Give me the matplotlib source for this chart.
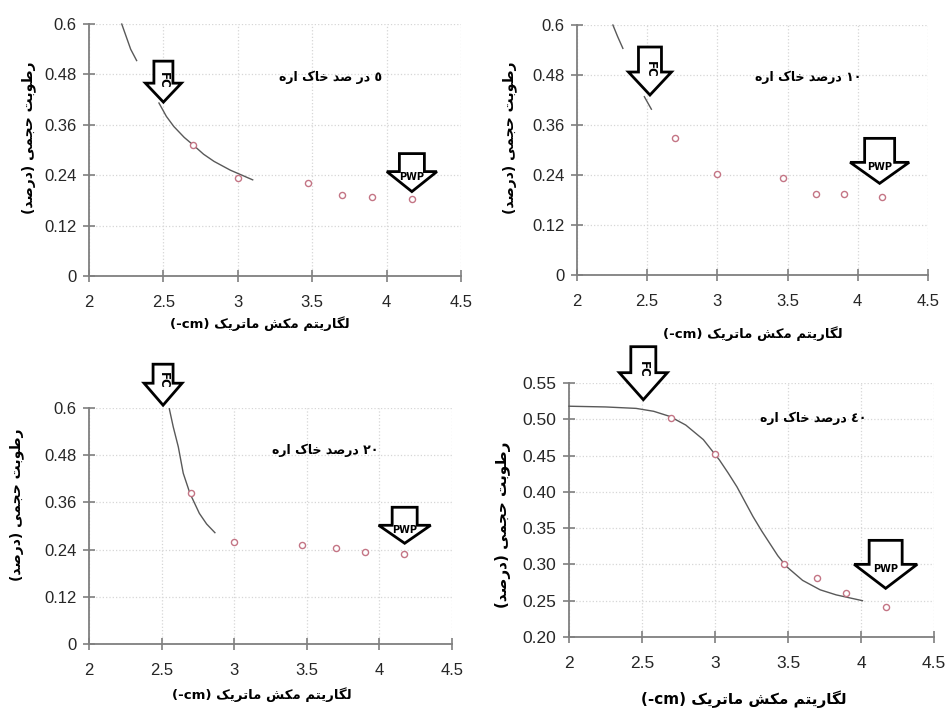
import matplotlib
matplotlib.use("Agg")
import matplotlib.pyplot as plt
import matplotlib.transforms as mtransforms
from matplotlib.patches import Polygon
import numpy as np

# ---- measured points (log matric suction vs volumetric moisture) ----
x_obs = [2.7, 3.0, 3.47, 3.7, 3.9, 4.17]

y_obs_5 = [0.312, 0.233, 0.222, 0.192, 0.187, 0.183]
y_obs_10 = [0.330, 0.243, 0.233, 0.194, 0.194, 0.188]
y_obs_20 = [0.383, 0.258, 0.252, 0.243, 0.233, 0.228]
y_obs_40 = [0.502, 0.452, 0.300, 0.281, 0.261, 0.241]

# ---- fitted curves (nan = break in the line) ----
fit_x_5 = [2.22, 2.25, 2.28, 2.32, np.nan, 2.47, 2.52, 2.57, 2.64, 2.70, 2.77, 2.84, 2.95, 3.10]
fit_y_5 = [0.60, 0.57, 0.54, 0.513, np.nan, 0.412, 0.38, 0.356, 0.33, 0.312, 0.29, 0.273, 0.252, 0.229]

fit_x_10 = [2.256, 2.29, 2.327, np.nan, 2.48, 2.505, 2.53]
fit_y_10 = [0.60, 0.572, 0.544, np.nan, 0.428, 0.413, 0.398]

fit_x_20 = [2.553, 2.58, 2.615, 2.649, 2.695, 2.76, 2.81, 2.867]
fit_y_20 = [0.598, 0.552, 0.501, 0.434, 0.383, 0.332, 0.305, 0.283]

fit_x_40 = [2.0, 2.25, 2.46, 2.58, 2.69, 2.80, 2.92, 3.03, 3.09, 3.15, 3.26, 3.32,
            3.375, 3.43, 3.49, 3.60, 3.72, 3.83, 4.01]
fit_y_40 = [0.518, 0.517, 0.515, 0.511, 0.504, 0.492, 0.472, 0.444, 0.426, 0.407, 0.366, 0.346,
            0.329, 0.312, 0.297, 0.278, 0.265, 0.258, 0.250]

x_ticks = [2, 2.5, 3, 3.5, 4, 4.5]
x_tick_labels = ["2", "2.5", "3", "3.5", "4", "4.5"]
y_ticks_a = [0, 0.12, 0.24, 0.36, 0.48, 0.6]
y_tick_labels_a = ["0", "0.12", "0.24", "0.36", "0.48", "0.6"]
y_ticks_b = [0.20, 0.25, 0.30, 0.35, 0.40, 0.45, 0.50, 0.55]
y_tick_labels_b = ["0.20", "0.25", "0.30", "0.35", "0.40", "0.45", "0.50", "0.55"]

# FC / PWP tips in data coords: (x, y, body_w, head_w, body_h, head_h) in px
fc_arrows = [(2.50, 0.414, 19, 36, 22, 19), (2.52, 0.432, 23, 43, 25, 23),
             (2.51, 0.607, 20, 38, 19, 22), (2.509, 0.527, 25, 48, 26, 27)]
pwp_arrows = [(4.17, 0.201, 25, 50, 18, 20), (4.156, 0.22, 30, 59, 24, 21),
              (4.174, 0.256, 25, 52, 18, 18), (4.169, 0.267, 33, 63, 24, 24)]


# ---- minimal Persian shaping: (isolated, final, initial, medial) ----
FORMS = {
    'ا': ('\uFE8D', '\uFE8E', None, None),
    'ب': ('\uFE8F', '\uFE90', '\uFE91', '\uFE92'),
    'ت': ('\uFE95', '\uFE96', '\uFE97', '\uFE98'),
    'ج': ('\uFE9D', '\uFE9E', '\uFE9F', '\uFEA0'),
    'ح': ('\uFEA1', '\uFEA2', '\uFEA3', '\uFEA4'),
    'خ': ('\uFEA5', '\uFEA6', '\uFEA7', '\uFEA8'),
    'د': ('\uFEA9', '\uFEAA', None, None),
    'ر': ('\uFEAD', '\uFEAE', None, None),
    'ش': ('\uFEB5', '\uFEB6', '\uFEB7', '\uFEB8'),
    'ص': ('\uFEB9', '\uFEBA', '\uFEBB', '\uFEBC'),
    'ط': ('\uFEC1', '\uFEC2', '\uFEC3', '\uFEC4'),
    'ل': ('\uFEDD', '\uFEDE', '\uFEDF', '\uFEE0'),
    'م': ('\uFEE1', '\uFEE2', '\uFEE3', '\uFEE4'),
    'ه': ('\uFEE9', '\uFEEA', '\uFEEB', '\uFEEC'),
    'و': ('\uFEED', '\uFEEE', None, None),
    'ی': ('\uFBFC', '\uFBFD', '\uFBFE', '\uFBFF'),
    'ک': ('\uFB8E', '\uFB8F', '\uFB90', '\uFB91'),
    'گ': ('\uFB92', '\uFB93', '\uFB94', '\uFB95'),
}


def rtl(text):
    out = []
    for i, ch in enumerate(text):
        if ch not in FORMS:
            out.append(ch)
            continue
        iso, fin, ini, med = FORMS[ch]
        prev = text[i - 1] if i > 0 else ''
        nxt = text[i + 1] if i + 1 < len(text) else ''
        join_prev = prev in FORMS and FORMS[prev][2] is not None
        join_next = ini is not None and nxt in FORMS
        if join_prev and join_next:
            out.append(med)
        elif join_prev:
            out.append(fin)
        elif join_next:
            out.append(ini)
        else:
            out.append(iso)
    vis = ''.join(reversed(out))
    return vis.translate(str.maketrans('()', ')('))


titles = [rtl('در صد خاک اره') + ' \u0665',
          rtl('درصد خاک اره') + ' \u0661\u0660',
          rtl('درصد خاک اره') + ' \u0662\u0660',
          rtl('درصد خاک اره') + ' \u0664\u0660']
ylab = rtl('رطوبت حجمی (درصد)')
xlab = '(-cm) ' + rtl('لگاریتم مکش ماتریک')

fig = plt.figure(figsize=(9.46, 7.09), dpi=100)
fa = ['DejaVu Sans']

rects = [[0.0941, 0.6107, 0.3932, 0.3554],
         [0.6099, 0.6121, 0.3710, 0.3526],
         [0.0941, 0.0917, 0.3837, 0.3329],
         [0.6015, 0.1016, 0.3858, 0.3582]]
obs = [y_obs_5, y_obs_10, y_obs_20, y_obs_40]
fits = [(fit_x_5, fit_y_5), (fit_x_10, fit_y_10), (fit_x_20, fit_y_20), (fit_x_40, fit_y_40)]
title_pos = [(0.65, 0.79), (0.658, 0.79), (0.65, 0.82), (0.67, 0.86)]
ylab_pos = [(-0.142, 0.55), (-0.171, 0.55), (-0.179, 0.59), (-0.159, 0.44)]
xlab_pos = [(0.46, -0.159), (0.50, -0.204), (0.477, -0.182), (0.48, -0.209)]


def block_arrow(ax, tip, label, horizontal):
    x, y, bw, hw, bh, hh = tip
    verts = np.array([[-bw / 2, hh + bh], [bw / 2, hh + bh], [bw / 2, hh], [hw / 2, hh],
                      [0, 0], [-hw / 2, hh], [-bw / 2, hh]]) / 100.0
    trans = fig.dpi_scale_trans + mtransforms.ScaledTranslation(x, y, ax.transData)
    ax.add_patch(Polygon(verts, closed=True, transform=trans, facecolor='white',
                         edgecolor='black', linewidth=2.0, clip_on=False, zorder=5))
    if horizontal:
        ax.text(0, (hh - 5) / 100.0, label, transform=trans, ha='center', va='center',
                fontsize=7, fontweight='bold', family=fa, zorder=6)
    else:
        ax.text(0, (hh + 3) / 100.0, label, transform=trans, ha='center', va='center',
                rotation=-90, fontsize=8.5, fontweight='bold', family=fa, zorder=6)


for i in range(4):
    ax = fig.add_axes(rects[i])
    ax.set_xlim(2, 4.5)
    if i == 3:
        ax.set_ylim(0.20, 0.55)
        ax.set_yticks(y_ticks_b)
        ax.set_yticklabels(y_tick_labels_b)
        tsize = 12.5
    else:
        ax.set_ylim(0, 0.6)
        ax.set_yticks(y_ticks_a)
        ax.set_yticklabels(y_tick_labels_a)
        tsize = 12
    ax.set_xticks(x_ticks)
    ax.set_xticklabels(x_tick_labels)
    for lab in ax.get_xticklabels() + ax.get_yticklabels():
        lab.set_family('Liberation Sans')
        lab.set_fontsize(tsize)
        lab.set_color('#262626')

    for s in ['top', 'right']:
        ax.spines[s].set_visible(False)
    for s in ['left', 'bottom']:
        ax.spines[s].set_color('#7f7f7f')
        ax.spines[s].set_linewidth(1.3)
    ax.tick_params(axis='both', direction='inout', length=8, width=1.2, color='#7f7f7f')
    ax.tick_params(axis='x', pad=10)
    ax.tick_params(axis='y', pad=5)
    ax.grid(True, linestyle=':', color='#d6d6d6', linewidth=0.9)
    ax.set_axisbelow(True)

    fx, fy = fits[i]
    ax.plot(fx, fy, color='#595959', linewidth=1.0, zorder=3, clip_on=False)
    ax.plot(x_obs, obs[i], linestyle='none', marker='o', markersize=4.4,
            markerfacecolor='white', markeredgecolor='#c47585', markeredgewidth=1.0, zorder=4)

    block_arrow(ax, fc_arrows[i], 'FC', False)
    block_arrow(ax, pwp_arrows[i], 'PWP', True)

    ax.text(title_pos[i][0], title_pos[i][1], titles[i], transform=ax.transAxes,
            ha='center', va='center', fontsize=9, fontweight='bold', family=fa)
    ax.set_ylabel(ylab, family=fa, fontweight='bold', fontsize=11 if i == 3 else 10)
    ax.yaxis.set_label_coords(*ylab_pos[i])
    ax.set_xlabel(xlab, family=fa, fontweight='bold', fontsize=11 if i == 3 else 9.5)
    ax.xaxis.set_label_coords(*xlab_pos[i])

fig.savefig('out.png', dpi=100)
